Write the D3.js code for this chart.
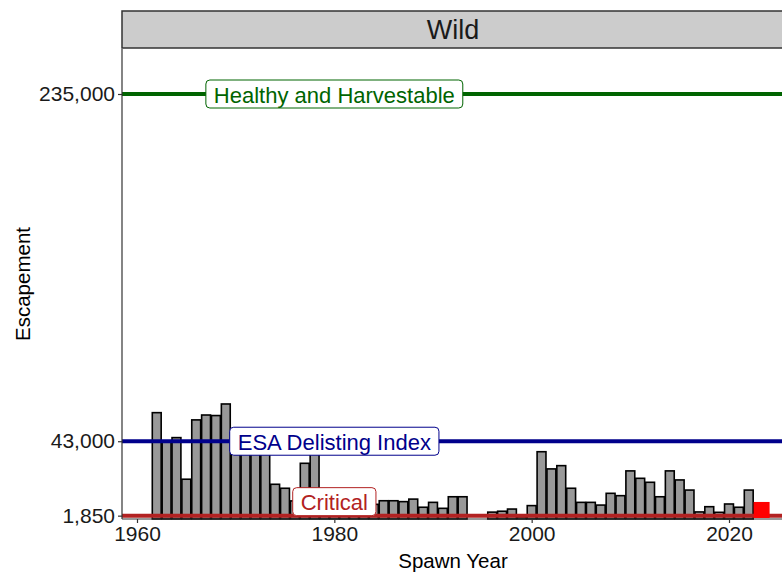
<!DOCTYPE html>
<html><head><meta charset="utf-8">
<script src="https://cdn.jsdelivr.net/npm/d3@7"></script>
<style>body{margin:0;background:#fff}svg{display:block;font-family:"Liberation Sans",Arial,sans-serif}</style>
</head><body><svg id="c" width="782" height="573"></svg>
<script>
const years = [1962,1963,1964,1965,1966,1967,1968,1969,1970,1971,1972,1973,1974,1975,1976,1977,1978,1979,1980,1981,1982,1983,1984,1985,1986,1987,1988,1989,1990,1991,1992,1993,1996,1997,1998,1999,2000,2001,2002,2003,2004,2005,2006,2007,2008,2009,2010,2011,2012,2013,2014,2015,2016,2017,2018,2019,2020,2021,2022];
const escapement = [58800,42500,45000,22000,54800,57500,57200,63600,40000,40000,40000,40000,19200,17000,10000,30800,40000,12000,11000,10000,10000,9500,8100,10100,10100,9600,11000,6500,9200,5900,12300,12300,3800,4300,5500,1200,7400,37200,27700,29500,17000,9200,9200,7700,14200,12900,26600,22500,20300,12300,26600,21600,16000,3900,6800,3700,8300,6500,16000];
const prelimYear = [2023];
const prelimValue = [5000];
const refNames = ["Healthy and Harvestable","ESA Delisting Index","Critical"];
const refValues = [235000,43000,1850];
const refColors = ["#006400","#00008B","#B22222"];
const refLabelY = [235000,43000,1850];
const refLabelVjust = [0.5,0.5,0];
const refLabelX = [1980,1980,1980];
const yTicks = [1850,43000,235000];
const xTicks = [1960,1980,2000,2020];
const panelTitle = "Wild";

const FONT = "'Liberation Sans',Arial,sans-serif";
const svg = d3.select("#c");
const L = 122, R = 784, T = 49, B = 519;
const x = d3.scaleLinear().domain([1960,2020]).range([137,729]);
const y = d3.scaleLinear().domain([0,235000]).range([B,94]);
const bw = (x(1961)-x(1960))*0.9;

// strip
svg.append("rect").attr("x",L).attr("y",11).attr("width",R-L).attr("height",37)
  .attr("fill","#cccccc").attr("stroke","#333").attr("stroke-width",1.5);
svg.append("text").attr("x",(L+R)/2).attr("y",30).attr("text-anchor","middle")
  .attr("dominant-baseline","central").attr("font-size",27).attr("fill","#1a1a1a").text(panelTitle);

const g = svg.append("g");
g.selectAll("rect.bar").data(years).join("rect").attr("class","bar")
  .attr("x",d=>x(d)-bw/2).attr("width",bw)
  .attr("y",(d,i)=>y(escapement[i])).attr("height",(d,i)=>y(0)-y(escapement[i]))
  .attr("fill","#999999").attr("stroke","#000").attr("stroke-width",1.6);

g.selectAll("line.ref").data(refValues).join("line").attr("class","ref")
  .attr("x1",L).attr("x2",R).attr("y1",d=>y(d)).attr("y2",d=>y(d))
  .attr("stroke",(d,i)=>refColors[i]).attr("stroke-width",4);

g.selectAll("rect.pre").data(prelimYear).join("rect").attr("class","pre")
  .attr("x",d=>x(d)-8+3).attr("y",(d,i)=>y(prelimValue[i])-8).attr("width",16).attr("height",16)
  .attr("fill","#ff0000");

// axes
const ya = d3.axisLeft(y).tickValues(yTicks).tickFormat(d3.format(",")).tickSize(4).tickPadding(3);
const yg = svg.append("g").attr("transform",`translate(${L},0)`).call(ya);
yg.select(".domain").attr("d",`M0,${T}V${B}`).attr("stroke","#333").attr("stroke-width",1.2);
const xa = d3.axisBottom(x).tickValues(xTicks).tickFormat(d3.format("d")).tickSize(4).tickPadding(3);
const xg = svg.append("g").attr("transform",`translate(0,${B})`).call(xa);
xg.select(".domain").attr("d",`M${L},0H${R}`).attr("stroke","#333").attr("stroke-width",1.2);
[yg,xg].forEach(a=>{a.selectAll(".tick line").attr("stroke","#333").attr("stroke-width",1.2);
  a.selectAll(".tick text").attr("font-size",21).attr("fill","#1a1a1a").attr("font-family",FONT);});

svg.append("text").attr("x",(L+R)/2).attr("y",568).attr("text-anchor","middle").attr("font-size",20.5).attr("fill","#000").text("Spawn Year");
svg.append("text").attr("transform",`translate(30,${(T+B)/2}) rotate(-90)`).attr("text-anchor","middle").attr("font-size",20.5).attr("fill","#000").text("Escapement");

// labels
refNames.forEach((name,i)=>{
  const lg = svg.append("g");
  const t = lg.append("text").attr("font-size",22).attr("fill",refColors[i]).attr("text-anchor","middle")
    .attr("dominant-baseline","central").text(name);
  const w = t.node().getComputedTextLength();
  const h = 28, padX = 8;
  const cx = x(refLabelX[i]);
  const cy = y(refLabelY[i]) - (0.5 - refLabelVjust[i]) * h;
  lg.insert("rect","text").attr("x",cx-w/2-padX).attr("y",cy-h/2).attr("width",w+2*padX).attr("height",h)
    .attr("rx",4).attr("fill","#fff").attr("stroke",refColors[i]).attr("stroke-width",1);
  t.attr("x",cx).attr("y",cy+1);
});
</script></body></html>
